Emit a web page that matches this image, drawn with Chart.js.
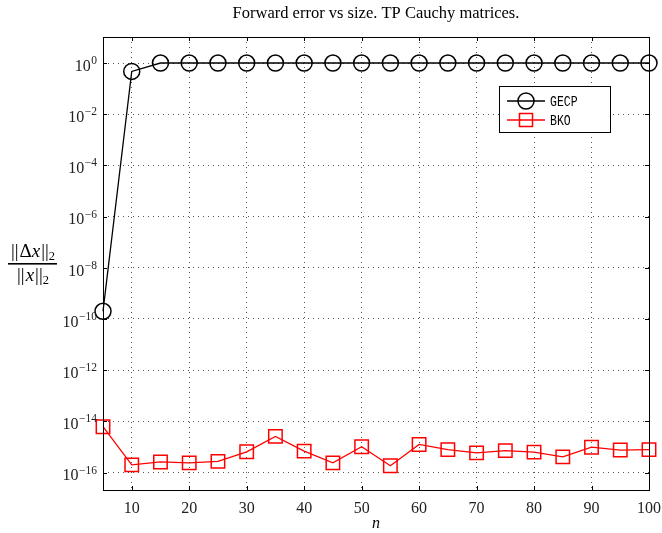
<!DOCTYPE html>
<html>
<head>
<meta charset="utf-8">
<script src="https://cdn.jsdelivr.net/npm/chart.js@4.4.1/dist/chart.umd.min.js"></script>
<style>
  html, body { margin: 0; padding: 0; background: #fff; }
  #wrap { width: 662px; height: 533px; }
</style>
</head>
<body>
<div id="wrap"><canvas id="c" width="662" height="533"></canvas></div>
<script>
// Matrix sizes
const sizes = [5, 10, 15, 20, 25, 30, 35, 40, 45, 50, 55, 60, 65, 70, 75, 80, 85, 90, 95, 100];
// Relative forward error, Gaussian elimination with complete pivoting
const gecp = [2.0e-10, 0.47, 1, 1, 1, 1, 1, 1, 1, 1, 1, 1, 1, 1, 1, 1, 1, 1, 1, 1];
// Relative forward error, BKO algorithm
const bko = [6.2e-15, 2.0e-16, 2.6e-16, 2.4e-16, 2.75e-16, 6.5e-16, 2.6e-15, 6.9e-16, 2.4e-16, 1.02e-15,
             1.86e-16, 1.26e-15, 7.9e-16, 5.9e-16, 7.2e-16, 6.3e-16, 4.1e-16, 9.8e-16, 7.6e-16, 7.9e-16];
// Axis ticks
const xTicks = [10, 20, 30, 40, 50, 60, 70, 80, 90, 100];
const yExponents = [0, -2, -4, -6, -8, -10, -12, -14, -16];

const SERIF = '"Liberation Serif", "DejaVu Serif", serif';
const MONO = '"Liberation Mono", "DejaVu Sans Mono", monospace';

const decor = {
  id: 'decor',
  afterDraw(chart) {
    const ctx = chart.ctx;
    const a = chart.chartArea;
    const xs = chart.scales.x, ys = chart.scales.y;
    ctx.save();

    // frame
    ctx.strokeStyle = '#000';
    ctx.lineWidth = 1;
    ctx.strokeRect(Math.round(a.left) + 0.5, Math.round(a.top) + 0.5,
                   Math.round(a.right - a.left), Math.round(a.bottom - a.top));

    // inner tick marks on all four sides
    const tl = 4;
    ctx.beginPath();
    xTicks.forEach(v => {
      const px = Math.round(xs.getPixelForValue(v)) + 0.5;
      ctx.moveTo(px, a.bottom); ctx.lineTo(px, a.bottom - tl);
      ctx.moveTo(px, a.top); ctx.lineTo(px, a.top + tl);
    });
    yExponents.forEach(e => {
      const py = Math.round(ys.getPixelForValue(Math.pow(10, e))) + 0.5;
      ctx.moveTo(a.left, py); ctx.lineTo(a.left + tl, py);
      ctx.moveTo(a.right, py); ctx.lineTo(a.right - tl, py);
    });
    ctx.stroke();

    // y tick labels with superscript exponents
    ctx.fillStyle = '#222';
    ctx.textBaseline = 'middle';
    yExponents.forEach(e => {
      const py = ys.getPixelForValue(Math.pow(10, e));
      const expTxt = e === 0 ? '0' : '\u2212' + Math.abs(e);
      ctx.font = '11.5px ' + SERIF;
      const ew = ctx.measureText(expTxt).width;
      const xr = a.left - 6;
      ctx.textAlign = 'left';
      ctx.fillText(expTxt, xr - ew, py - 2);
      ctx.font = '16px ' + SERIF;
      ctx.textAlign = 'right';
      ctx.fillText('10', xr - ew - 0.5, py + 3.5);
    });

    // title
    ctx.font = '16.5px ' + SERIF;
    ctx.textAlign = 'center';
    ctx.fillStyle = '#000';
    ctx.fillText('Forward error vs size. TP Cauchy matrices.', (a.left + a.right) / 2, 14);

    // x axis label
    ctx.font = 'italic 16px ' + SERIF;
    ctx.fillText('n', (a.left + a.right) / 2, 524);

    // y axis label: fraction ||Δx||2 / ||x||2
    const drawRuns = (runs, cx, cy) => {
      let w = 0;
      runs.forEach(r => { ctx.font = r[1]; w += ctx.measureText(r[0]).width; });
      let x = cx - w / 2;
      ctx.textAlign = 'left';
      runs.forEach(r => {
        ctx.font = r[1];
        ctx.fillText(r[0], x, cy + (r[2] || 0));
        x += ctx.measureText(r[0]).width + (r[3] || 0);
      });
      return w;
    };
    const nf = '19px ' + SERIF, itf = 'italic 19px ' + SERIF, sf = '12.5px ' + SERIF;
    const cx = 32;
    const w1 = drawRuns([['||', nf, 0, 1], ['\u0394', nf], ['x', itf, 0, 1], ['||', nf], ['2', sf, 5]], cx, 252);
    drawRuns([['||', nf, 0, 1], ['x', itf, 0, 1], ['||', nf], ['2', sf, 5]], cx, 276);
    ctx.fillRect(8, 263, 49, 1.6);

    // legend box
    const lx = 499, ly = 86, lw = 111, lh = 46;
    ctx.fillStyle = '#fff';
    ctx.fillRect(lx, ly, lw, lh);
    ctx.strokeStyle = '#000';
    ctx.lineWidth = 1;
    ctx.strokeRect(lx + 0.5, ly + 0.5, lw, lh);
    const items = [
      { label: 'GECP', color: '#000', y: 101, style: 'circle' },
      { label: 'BKO', color: '#ff0000', y: 120, style: 'rect' }
    ];
    items.forEach(it => {
      ctx.strokeStyle = it.color;
      ctx.lineWidth = 1.3;
      ctx.beginPath();
      ctx.moveTo(507, it.y); ctx.lineTo(545, it.y);
      ctx.stroke();
      ctx.beginPath();
      ctx.lineWidth = 1.5;
      if (it.style === 'circle') {
        ctx.arc(526, it.y, 8, 0, Math.PI * 2);
      } else {
        ctx.rect(519.5, it.y - 6.5, 13, 13);
      }
      ctx.stroke();
      ctx.fillStyle = '#000';
      ctx.save();
      ctx.translate(550, it.y + 1);
      ctx.scale(0.82, 1);
      ctx.font = '14px ' + MONO;
      ctx.textAlign = 'left';
      ctx.textBaseline = 'middle';
      ctx.fillText(it.label, 0, 0);
      ctx.restore();
    });

    ctx.restore();
  }
};

new Chart(document.getElementById('c'), {
  type: 'line',
  data: {
    labels: sizes,
    datasets: [
      {
        label: 'GECP',
        data: sizes.map((n, i) => ({ x: n, y: gecp[i] })),
        borderColor: '#000',
        backgroundColor: 'rgba(0,0,0,0)',
        borderWidth: 1.3,
        pointStyle: 'circle',
        pointRadius: 8,
        pointBorderWidth: 1.5,
        pointBorderColor: '#000',
        pointBackgroundColor: 'rgba(0,0,0,0)',
        tension: 0,
        clip: false
      },
      {
        label: 'BKO',
        data: sizes.map((n, i) => ({ x: n, y: bko[i] })),
        borderColor: '#ff0000',
        backgroundColor: 'rgba(0,0,0,0)',
        borderWidth: 1.3,
        pointStyle: 'rect',
        pointRadius: 9.5,
        pointBorderWidth: 1.5,
        pointBorderColor: '#ff0000',
        pointBackgroundColor: 'rgba(0,0,0,0)',
        tension: 0,
        clip: false
      }
    ]
  },
  options: {
    responsive: false,
    animation: false,
    layout: { padding: { top: 37, right: 13, left: 0, bottom: 0 } },
    plugins: {
      legend: { display: false },
      title: { display: false },
      tooltip: { enabled: false }
    },
    scales: {
      x: {
        type: 'linear',
        min: 5,
        max: 100,
        afterBuildTicks: s => { s.ticks = xTicks.map(v => ({ value: v })); },
        afterFit: s => { s.height = 43; s.paddingLeft = 0; s.paddingRight = 0; },
        grid: { color: '#555', lineWidth: 1, drawTicks: false },
        border: { display: false, dash: [1, 4] },
        ticks: {
          padding: 9,
          color: '#222',
          font: { family: SERIF, size: 16 },
          maxRotation: 0,
          callback: v => String(v)
        }
      },
      y: {
        type: 'logarithmic',
        min: Math.pow(10, -16.68),
        max: Math.pow(10, 1.016),
        afterBuildTicks: s => { s.ticks = yExponents.map(e => ({ value: Math.pow(10, e) })); },
        afterFit: s => { s.width = 103; s.paddingTop = 0; s.paddingBottom = 0; },
        grid: { color: '#555', lineWidth: 1, drawTicks: false },
        border: { display: false, dash: [1, 4] },
        ticks: { display: false }
      }
    }
  },
  plugins: [decor]
});
</script>
</body>
</html>
